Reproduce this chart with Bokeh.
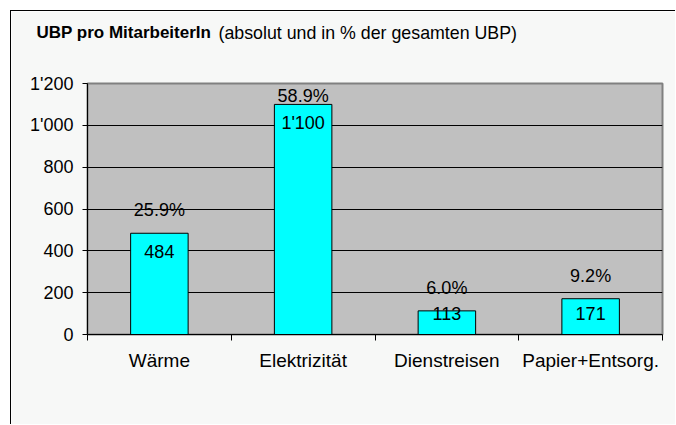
import numpy as np
from bokeh.plotting import figure
from bokeh.models import Range1d, FixedTicker, Title
from bokeh.core.properties import value
from bokeh.embed import file_html
from bokeh.resources import INLINE

# ---- data ----
categories = ["Wärme", "Elektrizität", "Dienstreisen", "Papier+Entsorg."]
ubp_values = [484, 1100, 113, 171]
value_labels = ["484", "1'100", "113", "171"]
pct_labels = ["25.9%", "58.9%", "6.0%", "9.2%"]
y_ticks = [0, 200, 400, 600, 800, 1000, 1200]
y_tick_labels = ["0", "200", "400", "600", "800", "1'000", "1'200"]
title_bold = "UBP pro MitarbeiterIn"
title_rest = "(absolut und in % der gesamten UBP)"

# ---- style / layout ----
FONT = "Liberation Sans"
W, H = 665, 414
BL, BR, BT, BB = 76, 14, 72, 91
Y_MAX = 1200
PX = (H - BT - BB) / Y_MAX  # pixels per data unit

x_pos = np.arange(len(categories)) + 0.5
vals = np.array(ubp_values, dtype=float)

p = figure(width=W, height=H, x_range=Range1d(0, len(categories)),
           y_range=Range1d(0, Y_MAX), output_backend="svg",
           toolbar_location=None, min_border_left=BL, min_border_right=BR,
           min_border_top=BT, min_border_bottom=BB,
           styles={"margin-left": "10px", "margin-top": "10px",
                   "border-left": "1px solid black",
                   "border-top": "1px solid black"})

p.background_fill_color = "#C0C0C0"
p.border_fill_color = "#F7F8F7"
p.outline_line_color = "#808080"
p.outline_line_width = 2

p.xgrid.visible = False
p.ygrid.ticker = FixedTicker(ticks=y_ticks)
p.ygrid.grid_line_color = "black"

p.yaxis.ticker = FixedTicker(ticks=y_ticks)
p.yaxis.major_label_overrides = {t: l for t, l in zip(y_ticks, y_tick_labels)}
p.yaxis.major_tick_out = 5
p.yaxis.major_tick_in = 0
p.yaxis.minor_tick_out = 0
p.yaxis.minor_tick_in = 0
p.yaxis.major_label_standoff = 9
p.yaxis.axis_line_color = "black"
p.yaxis.major_label_text_font = FONT
p.yaxis.major_label_text_font_size = "18px"
p.yaxis.major_label_text_color = "black"

p.xaxis.ticker = FixedTicker(ticks=list(x_pos), minor_ticks=list(range(len(categories) + 1)))
p.xaxis.major_label_overrides = {float(x): c for x, c in zip(x_pos, categories)}
p.xaxis.major_tick_out = 0
p.xaxis.major_tick_in = 0
p.xaxis.minor_tick_out = 6
p.xaxis.minor_tick_in = 0
p.xaxis.minor_tick_line_color = "black"
p.xaxis.axis_line_color = "black"
p.xaxis.major_label_standoff = 9
p.xaxis.major_label_text_font = FONT
p.xaxis.major_label_text_font_size = "19px"
p.xaxis.major_label_text_color = "black"

p.vbar(x=x_pos, top=vals, width=0.4, fill_color="#00FFFF",
       line_color="black", line_width=1)

# value labels inside bars (kept above a minimum height)
val_y = np.maximum(vals - 18.5 / PX, 21 / PX)
p.text(x=x_pos, y=val_y, text=value_labels, text_align="center",
       text_baseline="middle", text_font=value(FONT),
       text_font_size="18px", text_color="black")

# percentage labels above bars (kept inside the frame)
pct_y = np.minimum(vals + 23 / PX, Y_MAX - 12 / PX)
p.text(x=x_pos, y=pct_y, text=pct_labels, text_align="center",
       text_baseline="middle", text_font=value(FONT),
       text_font_size="18px", text_color="black")

# title: a spacer, then two zero-height titles on one line
p.title.text = ""
p.add_layout(Title(text=" ", text_font_size="10px", standoff=38), "above")
p.add_layout(Title(text=title_bold, text_font=FONT, text_font_size="17px",
                   text_font_style="bold", text_color="black",
                   align="left", vertical_align="middle",
                   offset=-51, standoff=-22), "above")
p.add_layout(Title(text=title_rest, text_font=FONT, text_font_size="17.8px",
                   text_font_style="normal", text_color="black",
                   align="left", vertical_align="middle",
                   offset=131, standoff=-22), "above")

open("out.html", "w").write(file_html(p, INLINE))
